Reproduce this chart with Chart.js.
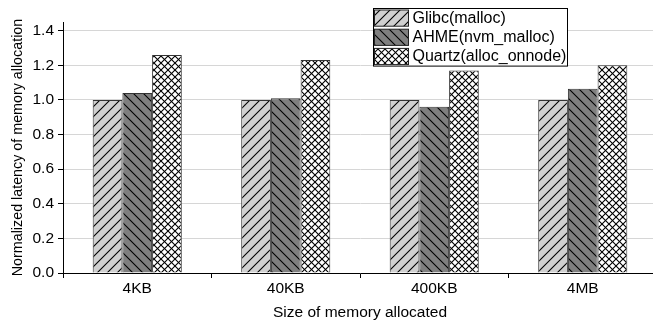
<!DOCTYPE html>
<html><head><meta charset="utf-8">
<script src="https://cdn.jsdelivr.net/npm/chart.js@4"></script>
<style>html,body{margin:0;padding:0;background:#fff;overflow:hidden;width:653px;height:322px}
#wrap{width:657px;height:322px;position:relative}</style>
</head><body><div id="wrap"><canvas id="c" width="657" height="322"></canvas></div>
<script>
const categories = ['4KB', '40KB', '400KB', '4MB'];
const seriesNames = ['Glibc(malloc)', 'AHME(nvm_malloc)', 'Quartz(alloc_onnode)'];
const glibc = [1.00, 1.00, 1.00, 1.00];
const ahme = [1.04, 1.01, 0.96, 1.065];
const quartz = [1.26, 1.23, 1.17, 1.20];
const yTicks = [0.0, 0.2, 0.4, 0.6, 0.8, 1.0, 1.2, 1.4];

const FONT = '"Liberation Sans", Arial, sans-serif';

function makePattern(kind) {
  const s = kind === 'x' ? 7 : 10;
  const c = document.createElement('canvas');
  c.width = s; c.height = s;
  const g = c.getContext('2d');
  g.fillStyle = kind === 'f' ? '#d0d0d0' : (kind === 'b' ? '#7f7f7f' : '#ffffff');
  g.fillRect(0, 0, s, s);
  g.strokeStyle = '#000';
  g.lineWidth = 1.1;
  function fwd() { g.beginPath(); g.moveTo(-1, s + 1); g.lineTo(s + 1, -1); g.moveTo(-1, 1); g.lineTo(1, -1); g.moveTo(s - 1, s + 1); g.lineTo(s + 1, s - 1); g.stroke(); }
  function bwd() { g.beginPath(); g.moveTo(-1, -1); g.lineTo(s + 1, s + 1); g.moveTo(s - 1, -1); g.lineTo(s + 1, 1); g.moveTo(-1, s - 1); g.lineTo(1, s + 1); g.stroke(); }
  if (kind === 'f') fwd();
  else if (kind === 'b') bwd();
  else { fwd(); bwd(); }
  return document.getElementById('c').getContext('2d').createPattern(c, 'repeat');
}
const patterns = [makePattern('f'), makePattern('b'), makePattern('x')];
const seriesData = [glibc, ahme, quartz];

const legendPlugin = {
  id: 'boxLegend',
  afterDraw(chart) {
    const ctx = chart.ctx;
    const x0 = 373.5, y0 = 8.5, w = 194, rowH = 19.2;
    ctx.save();
    ctx.fillStyle = '#fff';
    ctx.fillRect(x0, y0, w, rowH * 3);
    ctx.strokeStyle = '#000';
    ctx.lineWidth = 1;
    ctx.strokeRect(x0, y0, w, rowH * 3);
    ctx.font = '16px ' + FONT;
    ctx.textBaseline = 'middle';
    chart.data.datasets.forEach((ds, i) => {
      const ry = y0 + i * rowH;
      ctx.fillStyle = ds.backgroundColor;
      ctx.fillRect(x0 + 1, ry + 1.5, 34, rowH - 3);
      ctx.strokeStyle = '#222';
      ctx.strokeRect(x0 + 1, ry + 1.5, 34, rowH - 3);
      ctx.fillStyle = '#000';
      ctx.fillText(ds.label, x0 + 39, ry + rowH / 2 + 0.5);
    });
    ctx.restore();
  }
};

new Chart(document.getElementById('c'), {
  type: 'bar',
  data: {
    labels: categories,
    datasets: seriesNames.map((n, i) => ({
      label: n,
      data: seriesData[i],
      backgroundColor: patterns[i],
      borderColor: '#333',
      borderWidth: 1,
      categoryPercentage: 0.6,
      barPercentage: 1.0
    }))
  },
  options: {
    responsive: false,
    animation: false,
    devicePixelRatio: 1,
    layout: { padding: { top: 22, right: 0, left: 0, bottom: 0 } },
    plugins: { legend: { display: false }, tooltip: { enabled: false } },
    scales: {
      x: {
        border: { color: '#000', width: 1 },
        grid: { drawOnChartArea: false, drawTicks: true, tickLength: 5, tickColor: '#000' },
        ticks: { color: '#000', font: { family: FONT, size: 15.5 }, padding: 1 },
        title: { display: true, text: 'Size of memory allocated', color: '#000', font: { family: FONT, size: 15.5 }, padding: { top: 3, bottom: 0 } },
        afterFit(a) { a.height = 49; }
      },
      y: {
        min: 0, max: 1.45,
        border: { color: '#000', width: 1 },
        grid: { color: '#d6d6d6', tickColor: '#000', tickLength: 5 },
        afterBuildTicks(a) { a.ticks = yTicks.map(v => ({ value: v })); },
        ticks: { color: '#000', font: { family: FONT, size: 15.5 }, padding: 4, callback: v => v.toFixed(1) },
        title: { display: true, text: 'Normalized latency of memory allocation', color: '#000', font: { family: FONT, size: 14.3 }, padding: { top: 9, bottom: 2 } },
        afterFit(a) { a.width = 63; }
      }
    }
  },
  plugins: [legendPlugin]
});
</script></body></html>
